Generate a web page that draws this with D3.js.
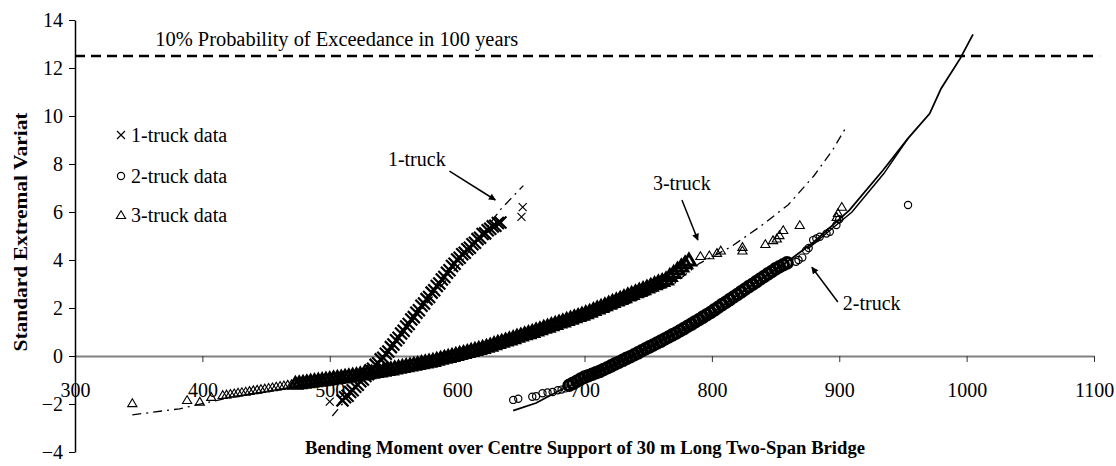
<!DOCTYPE html>
<html><head><meta charset="utf-8">
<script src="https://cdn.jsdelivr.net/npm/d3@7"></script>
<style>
html,body{margin:0;padding:0;background:#fff;}
svg text{font-family:"Liberation Serif","Times New Roman",serif;fill:#000;}
</style></head>
<body>
<svg id="chart" width="1116" height="466"></svg>
<script>
// ---------- data ----------
const xTicks = [300,400,500,600,700,800,900,1000,1100];
const yTicks = [-4,-2,0,2,4,6,8,10,12,14];
const thresholdValue = 12.5;
const thresholdLabel = "10% Probability of Exceedance in 100 years";
const xTitle = "Bending Moment over Centre Support of 30 m Long Two-Span Bridge";
const yTitle = "Standard Extremal Variat";
const legendLabels = ["1-truck data","2-truck data","3-truck data"];

// 1-truck data (crosses): dense body and isolated points
const truck1X = [510,512,514,516,518,520,522,524,526,528,530,532,534,536,538,540,542,544,546,548,550,552,554,556,558,560,562,564,566,568,570,572,574,576,578,580,582,584,586,588,590,592,594,596,598,600,602,604,606,608,610,612,614,616,618,620,622,624,626,628,630,632,634];
const truck1Y = [-1.85,-1.72,-1.66,-1.50,-1.43,-1.28,-1.20,-1.05,-0.98,-0.83,-0.76,-0.60,-0.53,-0.37,-0.30,-0.14,-0.07,0.09,0.19,0.37,0.48,0.66,0.76,0.94,1.05,1.23,1.33,1.52,1.62,1.80,1.91,2.09,2.19,2.37,2.46,2.64,2.74,2.92,3.02,3.19,3.29,3.47,3.57,3.75,3.84,4.02,4.09,4.24,4.30,4.45,4.51,4.66,4.72,4.87,4.93,5.08,5.11,5.24,5.30,5.40,5.43,5.54,5.56];
const truck1OutX = [500,650.5,651.5];
const truck1OutY = [-1.9,5.8,6.2];

// 2-truck data (circles)
const truck2X = [688,691,694,697,700,703,706,709,712,715,718,721,724,727,730,733,736,739,742,745,748,751,754,757,760,763,766,769,772,775,778,781,784,787,790,793,796,799,802,805,808,811,814,817,820,823,826,829,832,835,838,841,844,847,850,853,856,859];
const truck2Y = [-1.22,-1.14,-1.05,-0.96,-0.88,-0.82,-0.76,-0.70,-0.64,-0.56,-0.49,-0.41,-0.33,-0.26,-0.18,-0.10,-0.03,0.05,0.13,0.22,0.30,0.38,0.46,0.54,0.62,0.71,0.79,0.88,0.96,1.05,1.14,1.24,1.33,1.43,1.52,1.62,1.72,1.81,1.92,2.03,2.14,2.24,2.35,2.46,2.56,2.67,2.78,2.89,2.99,3.10,3.21,3.31,3.42,3.52,3.63,3.72,3.80,3.88];
const truck2OutX = [644,648,659,662,667,671,675,679,682,685,866,868,871,874,876,879.5,882,884.7,890,892.6,897.8,900,954];
const truck2OutY = [-1.83,-1.78,-1.7,-1.68,-1.55,-1.52,-1.5,-1.43,-1.4,-1.35,3.93,4.0,4.1,4.4,4.5,4.83,4.9,4.97,5.1,5.18,5.46,5.7,6.29];

// 3-truck data (triangles)
const truck3X = [473,476,479,482,485,488,491,494,497,500,503,506,509,512,515,518,521,524,527,530,533,536,539,542,545,548,551,554,557,560,563,566,569,572,575,578,581,584,587,590,593,596,599,602,605,608,611,614,617,620,623,626,629,632,635,638,641,644,647,650,653,656,659,662,665,668,671,674,677,680,683,686,689,692,695,698,701,704,707,710,713,716,719,722,725,728,731,734,737,740,743,746,749,752,755,758,761,764,767,770,773,776,779,782];
const truck3Y = [-1.14,-1.12,-1.10,-1.08,-1.05,-1.03,-1.01,-0.99,-0.97,-0.95,-0.92,-0.90,-0.88,-0.85,-0.83,-0.80,-0.78,-0.75,-0.73,-0.70,-0.68,-0.65,-0.63,-0.60,-0.57,-0.54,-0.50,-0.47,-0.44,-0.41,-0.38,-0.35,-0.32,-0.28,-0.25,-0.22,-0.19,-0.14,-0.10,-0.06,-0.02,0.02,0.06,0.10,0.14,0.18,0.23,0.27,0.31,0.35,0.40,0.45,0.51,0.56,0.61,0.66,0.71,0.76,0.82,0.87,0.92,0.97,1.02,1.08,1.13,1.19,1.24,1.30,1.35,1.41,1.46,1.52,1.57,1.63,1.68,1.74,1.80,1.86,1.93,2.00,2.06,2.13,2.20,2.27,2.33,2.40,2.47,2.54,2.60,2.67,2.74,2.80,2.87,2.94,3.01,3.08,3.14,3.21,3.35,3.48,3.62,3.75,3.88,4.00];
const truck3OutX = [345,388,398,407,416,419,422,425,428,431,434,437,440,443,446,449,452,455,458,461,464,467,470,791,798,804,807,824,824,842,848,851,853,856,869,898,899,902];
const truck3OutY = [-1.96,-1.83,-1.9,-1.7,-1.62,-1.60,-1.57,-1.55,-1.52,-1.50,-1.48,-1.45,-1.42,-1.40,-1.37,-1.35,-1.32,-1.30,-1.27,-1.24,-1.22,-1.19,-1.17,4.17,4.2,4.3,4.4,4.55,4.4,4.67,4.83,4.9,5.04,5.25,5.46,5.8,5.96,6.22];

// fitted curves
const fit1X = [502,543,600,634,652];
const fit1Y = [-2.5,0.1,3.7,6.1,7.1];
const fit3X = [345,382,420,480,540,600,650,700,740,770,790,815,838,860,880,895,905];
const fit3Y = [-2.45,-2.2,-1.75,-1.25,-0.7,0.0,0.6,1.45,2.3,3.0,3.85,4.55,5.4,6.3,7.5,8.6,9.5];
const fit2X = [644,662,680,700,737,790,830,856,880,908,934.5,954,971,980,995,1005];
const fit2Y = [-2.28,-1.96,-1.45,-0.95,0,1.4,2.9,3.8,4.75,6.08,7.75,9.07,10.1,11.15,12.4,13.4];
const fitAltX = [875,893,910,935,954];
const fitAltY = [4.45,5.25,6.0,7.6,9.07];

// annotations
const annoLabels = ["1-truck","3-truck","2-truck"];
const annoTextX = [591,753.7,902.8];
const annoTextY = [7.9,6.9,1.9];
const annoAnchor = ["end","start","start"];
const arrowFromX = [594,776.5,898.9];
const arrowFromY = [7.7,6.5,2.25];
const arrowToX = [630,789,878.5];
const arrowToY = [6.5,4.83,3.7];

// ---------- drawing ----------
const svg = d3.select("#chart");
const x = d3.scaleLinear().domain([300,1100]).range([75,1094]);
const y = d3.scaleLinear().domain([-4,14]).range([452,20]);
const serif = "'Liberation Serif','Times New Roman',serif";

svg.append("defs").append("marker")
  .attr("id","arrow").attr("viewBox","0 0 10 10").attr("refX",9).attr("refY",5)
  .attr("markerWidth",8).attr("markerHeight",7).attr("markerUnits","userSpaceOnUse")
  .attr("orient","auto")
  .append("path").attr("d","M0,0L10,5L0,10Z").attr("fill","#000");

// x axis at y=0
const xAxis = svg.append("g").attr("transform",`translate(0,${y(0)})`)
  .call(d3.axisBottom(x).tickValues(xTicks).tickFormat(d3.format("d")).tickSize(6).tickSizeOuter(0).tickPadding(21));
xAxis.select(".domain").attr("stroke","#808080").attr("stroke-width",2);
xAxis.selectAll(".tick line").attr("stroke","#333");
xAxis.selectAll("text").attr("font-size","20px").attr("fill","#000").style("font-family",serif);

// y axis
const yAxis = svg.append("g").attr("transform",`translate(${x(300)},0)`)
  .call(d3.axisLeft(y).tickValues(yTicks).tickSize(6).tickSizeOuter(0).tickPadding(6));
yAxis.select(".domain").attr("stroke","#000").attr("stroke-width",1.5);
yAxis.selectAll(".tick line").attr("stroke","#000");
yAxis.selectAll("text").attr("font-size","20px").attr("fill","#000").style("font-family",serif);

// threshold dashed line
svg.append("line").attr("x1",x(300)).attr("x2",x(1104)).attr("y1",y(thresholdValue)).attr("y2",y(thresholdValue))
  .attr("stroke","#000").attr("stroke-width",2.5).attr("stroke-dasharray","10,6");
svg.append("text").attr("x",x(363)).attr("y",y(thresholdValue)-10).attr("font-size","20px")
  .attr("textLength",363).attr("lengthAdjust","spacingAndGlyphs").text(thresholdLabel);

// fitted lines
const line = d3.line().x(d=>x(d[0])).y(d=>y(d[1]));
const zip = (a,b)=>a.map((v,i)=>[v,b[i]]);
svg.append("path").attr("d",line(zip(fit3X,fit3Y))).attr("fill","none").attr("stroke","#000")
  .attr("stroke-width",1.3).attr("stroke-dasharray","9,5,2,5");
svg.append("path").attr("d",line(zip(fit1X,fit1Y))).attr("fill","none").attr("stroke","#000")
  .attr("stroke-width",1.3).attr("stroke-dasharray","9,5,2,5");
svg.append("path").attr("d",line(zip(fit2X,fit2Y))).attr("fill","none").attr("stroke","#000")
  .attr("stroke-width",1.8);
svg.append("path").attr("d",line(zip(fitAltX,fitAltY))).attr("fill","none").attr("stroke","#000")
  .attr("stroke-width",1.5);

// markers
function drawCross(g, px, py, s, w){ g.append("path").attr("transform",`translate(${px},${py})`)
  .attr("d",`M${-s},${-s}L${s},${s}M${-s},${s}L${s},${-s}`).attr("stroke","#000").attr("stroke-width",w).attr("fill","none"); }
function drawCircle(g, px, py, r, w){ g.append("circle").attr("cx",px).attr("cy",py).attr("r",r)
  .attr("stroke","#000").attr("stroke-width",w).attr("fill","none"); }
function drawTri(g, px, py, s, w){ g.append("path").attr("transform",`translate(${px},${py})`)
  .attr("d",`M0,${-s}L${s*1.1},${s*0.85}L${-s*1.1},${s*0.85}Z`).attr("stroke","#000").attr("stroke-width",w).attr("fill","none"); }

const pts = svg.append("g");
truck3X.forEach((v,i)=>drawTri(pts, x(v), y(truck3Y[i]), 5.8, 3));
truck3OutX.forEach((v,i)=>drawTri(pts, x(v), y(truck3OutY[i]), 4.2, 1.1));
truck2X.forEach((v,i)=>drawCircle(pts, x(v), y(truck2Y[i]), 5.2, 3.2));
truck2OutX.forEach((v,i)=>drawCircle(pts, x(v), y(truck2OutY[i]), 3.6, 1.2));
truck1X.forEach((v,i)=>drawCross(pts, x(v), y(truck1Y[i]), 6, 2.2));
truck1OutX.forEach((v,i)=>drawCross(pts, x(v), y(truck1OutY[i]), 4, 1.2));

// annotations
annoLabels.forEach((lab,i)=>{
  svg.append("text").attr("x",x(annoTextX[i])).attr("y",y(annoTextY[i])).attr("font-size","20px")
    .attr("text-anchor",annoAnchor[i]).text(lab);
  svg.append("line").attr("x1",x(arrowFromX[i])).attr("y1",y(arrowFromY[i]))
    .attr("x2",x(arrowToX[i])).attr("y2",y(arrowToY[i]))
    .attr("stroke","#000").attr("stroke-width",1.5).attr("marker-end","url(#arrow)");
});

// legend
const legY = [135,176,215];
const leg = svg.append("g");
drawCross(leg, 121, legY[0], 4, 1.2);
drawCircle(leg, 121, legY[1], 3.6, 1.2);
drawTri(leg, 121, legY[2], 4.2, 1.1);
legendLabels.forEach((t,i)=>{
  leg.append("text").attr("x",131).attr("y",legY[i]+7).attr("font-size","20px").text(t);
});

// axis titles
svg.append("text").attr("x",585).attr("y",454).attr("text-anchor","middle")
  .attr("font-size","18.5px").attr("font-weight","bold")
  .attr("textLength",560).attr("lengthAdjust","spacingAndGlyphs").text(xTitle);
svg.append("text").attr("transform","translate(27,232) rotate(-90)").attr("text-anchor","middle")
  .attr("font-size","19px").attr("font-weight","bold")
  .attr("textLength",239).attr("lengthAdjust","spacingAndGlyphs").text(yTitle);
</script>
</body></html>
